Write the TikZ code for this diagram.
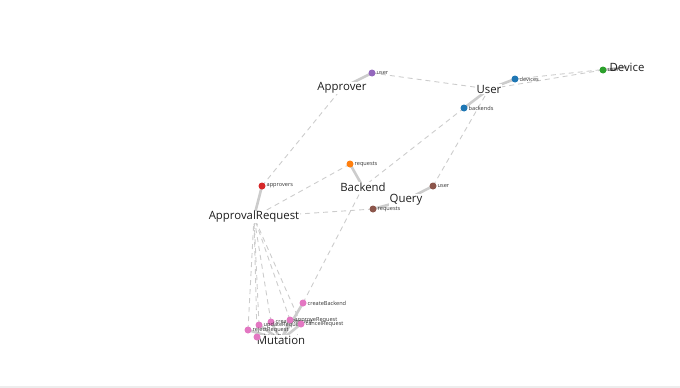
\documentclass[tikz,border=0pt]{standalone}
\usepackage{fontspec}
\setmainfont{Open Sans}
\definecolor{cpurple}{HTML}{9467BD}
\definecolor{cblue}{HTML}{1F77B4}
\definecolor{cgreen}{HTML}{2CA02C}
\definecolor{corange}{HTML}{FF7F0E}
\definecolor{cred}{HTML}{D62728}
\definecolor{cbrown}{HTML}{8C564B}
\definecolor{cpink}{HTML}{E377C2}
\definecolor{linkgray}{HTML}{CCCCCC}
\definecolor{labelgray}{HTML}{333333}
\tikzset{
  typelabel/.style={font=\fontsize{11.4}{12}\selectfont, text=black!88, fill=white, inner sep=0.5pt},
  fielddot/.style={circle, fill=#1, inner sep=0pt, minimum size=7pt},
  fieldlabel/.style={font=\fontsize{5.6}{6}\selectfont, text=labelgray, anchor=west, inner sep=0pt, xshift=4.5pt},
  reflink/.style={draw=linkgray, line width=0.9pt, dash pattern=on 5pt off 4pt},
  ownlink/.style={draw=linkgray, line width=2.6pt},
}
\begin{document}
\begin{tikzpicture}[x=1pt,y=-1pt]
\useasboundingbox (0,0) rectangle (680,388);
\fill[black!7] (0,386) rectangle (680,388);

% hub coordinates of the types (label centres)
\coordinate (Approver) at (342,88);
\coordinate (User) at (489,89);
\coordinate (Device) at (627,67);
\coordinate (Backend) at (363,187);
\coordinate (Query) at (406,200);
\coordinate (ApprovalRequest) at (254,217);
\coordinate (Mutation) at (281,340);

% field dot positions
\coordinate (aUser) at (372,73);
\coordinate (uDev) at (515,79);
\coordinate (uBack) at (464,108);
\coordinate (dUser) at (603,70);
\coordinate (bReq) at (350,164);
\coordinate (arAppr) at (262,186);
\coordinate (qUser) at (433,186);
\coordinate (qReq) at (373,209);
\coordinate (mCB) at (303,303);
\coordinate (mCR) at (271,322);
\coordinate (mAR) at (290,320);
\coordinate (mCan) at (301,324);
\coordinate (mUR) at (259,325);
\coordinate (mRR) at (248,330);
\coordinate (mDR) at (257,337);

% ownership links (type -> field)
\draw[ownlink] (Approver) -- (aUser);
\draw[ownlink] (User) -- (uDev);
\draw[ownlink] (User) -- (uBack);
\draw[ownlink] (Device) -- (dUser);
\draw[ownlink] (Backend) -- (bReq);
\draw[ownlink] (ApprovalRequest) -- (arAppr);
\draw[ownlink] (Query) -- (qUser);
\draw[ownlink] (Query) -- (qReq);
\foreach \f in {mCB,mCR,mAR,mCan,mUR,mRR,mDR} \draw[ownlink] (Mutation) -- (\f);

% reference links (field -> type)
\draw[reflink] (aUser) -- (User);
\draw[reflink] (uDev) -- (Device);
\draw[reflink] (dUser) -- (User);
\draw[reflink] (uBack) -- (Backend);
\draw[reflink] (bReq) -- (ApprovalRequest);
\draw[reflink] (arAppr) -- (Approver);
\draw[reflink] (qUser) -- (User);
\draw[reflink] (qReq) -- (ApprovalRequest);
\draw[reflink] (mCB) -- (Backend);
\foreach \f in {mCR,mAR,mCan,mUR,mRR,mDR} \draw[reflink] (\f) -- (ApprovalRequest);

% hidden label under Mutation
\node[fieldlabel] (lDR) at (mDR) {deleteRequest};

% type labels
\node[typelabel] (tApprover) at (Approver) {Approver};
\node[typelabel] (tUser) at (User) {User};
\node[typelabel] (tBackend) at (Backend) {Backend};
\node[typelabel] (tQuery) at (Query) {Query};
\node[typelabel] (tApprovalRequest) at (ApprovalRequest) {ApprovalRequest};
\node[typelabel] (tMutation) at (Mutation) {Mutation};

% field dots and labels
\node[fielddot=cpurple] (daUser) at (aUser) {};
\node[fieldlabel] at (aUser) {user};
\node[fielddot=cblue] (duDev) at (uDev) {};
\node[fieldlabel] at (uDev) {devices};
\node[fielddot=cblue] (duBack) at (uBack) {};
\node[fieldlabel] at (uBack) {backends};
\node[fielddot=cgreen] (ddUser) at (dUser) {};
\node[fieldlabel] at (dUser) {user};
\node[fielddot=corange] (dbReq) at (bReq) {};
\node[fieldlabel] at (bReq) {requests};
\node[fielddot=cred] (darAppr) at (arAppr) {};
\node[fieldlabel] at (arAppr) {approvers};
\node[fielddot=cbrown] (dqUser) at (qUser) {};
\node[fieldlabel] at (qUser) {user};
\node[fielddot=cbrown] (dqReq) at (qReq) {};
\node[fieldlabel] at (qReq) {requests};
\node[fielddot=cpink] (dmCB) at (mCB) {};
\node[fieldlabel] at (mCB) {createBackend};
\node[fielddot=cpink] (dmCR) at (mCR) {};
\node[fieldlabel] at (mCR) {createRequest};
\node[fielddot=cpink] (dmUR) at (mUR) {};
\node[fieldlabel] at (mUR) {updateRequest};
\node[fielddot=cpink] (dmRR) at (mRR) {};
\node[fieldlabel] at (mRR) {rejectRequest};
\node[fielddot=cpink] (dmAR) at (mAR) {};
\node[fieldlabel] at (mAR) {approveRequest};
\node[fielddot=cpink] (dmCan) at (mCan) {};
\node[fieldlabel] at (mCan) {cancelRequest};
\node[fielddot=cpink] (dmDR) at (mDR) {};

\node[typelabel, fill=none] (tDevice) at (Device) {Device};
\end{tikzpicture}
\end{document}
